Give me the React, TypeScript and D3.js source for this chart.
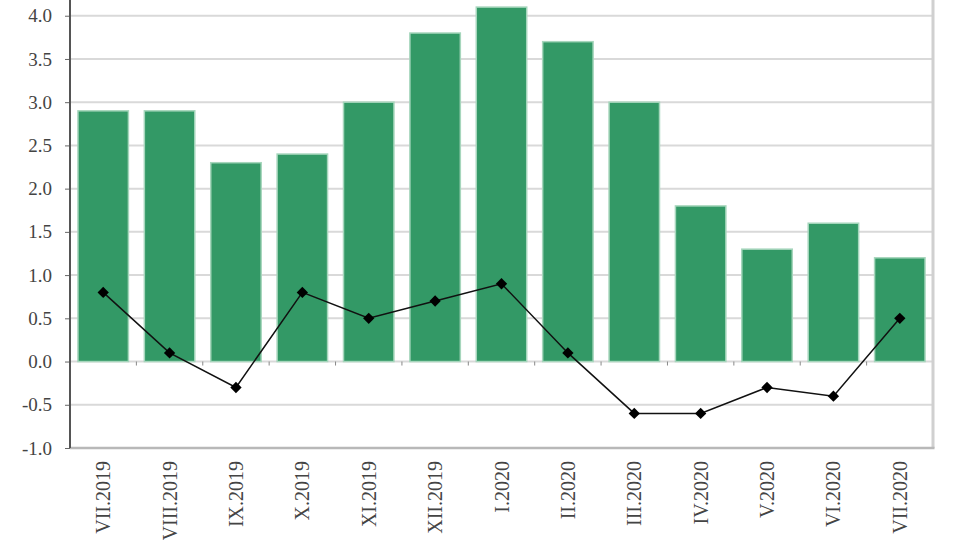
import * as d3 from "d3";
import { useEffect, useRef } from "react";

const months = [
  "VII.2019", "VIII.2019", "IX.2019", "X.2019", "XI.2019", "XII.2019",
  "I.2020", "II.2020", "III.2020", "IV.2020", "V.2020", "VI.2020", "VII.2020",
];
const barValues = [2.9, 2.9, 2.3, 2.4, 3.0, 3.8, 4.1, 3.7, 3.0, 1.8, 1.3, 1.6, 1.2];
const lineValues = [0.8, 0.1, -0.3, 0.8, 0.5, 0.7, 0.9, 0.1, -0.6, -0.6, -0.3, -0.4, 0.5];
const yTicks = [-1.0, -0.5, 0.0, 0.5, 1.0, 1.5, 2.0, 2.5, 3.0, 3.5, 4.0];

export default function App() {
  const svgRef = useRef<SVGSVGElement>(null);

  useEffect(() => {
    if (!svgRef.current) return;
    const svg = d3.select(svgRef.current);
    svg.selectAll("*").remove();

    const left = 70;
    const right = 933;
    const font = "'Liberation Serif', 'DejaVu Serif', serif";

    const x = d3.scaleBand().domain(months).range([left, right]).paddingInner(0.24).paddingOuter(0.12);
    const y = d3.scaleLinear().domain([-1, 4.5]).range([448, -27.5]);

    // gridlines
    svg.append("g")
      .selectAll("line")
      .data(yTicks.filter(t => t > -1))
      .enter()
      .append("line")
      .attr("x1", left)
      .attr("x2", right)
      .attr("y1", d => y(d))
      .attr("y2", d => y(d))
      .attr("stroke", "#d9d9d9")
      .attr("stroke-width", 2);

    // bars
    svg.append("g")
      .selectAll("rect")
      .data(barValues)
      .enter()
      .append("rect")
      .attr("x", (d, i) => x(months[i]))
      .attr("y", d => y(d))
      .attr("width", x.bandwidth())
      .attr("height", d => y(0) - y(d))
      .attr("fill", "#339966")
      .attr("stroke", "#a6d6bc")
      .attr("stroke-width", 1.5);

    // small category ticks at zero line
    svg.append("g")
      .selectAll("line")
      .data(d3.range(1, months.length))
      .enter()
      .append("line")
      .attr("x1", i => left + (right - left) * i / months.length)
      .attr("x2", i => left + (right - left) * i / months.length)
      .attr("y1", y(0))
      .attr("y2", y(0) + 4)
      .attr("stroke", "#888")
      .attr("stroke-width", 1);

    // right border & bottom line
    svg.append("line")
      .attr("x1", right).attr("x2", right)
      .attr("y1", 0).attr("y2", y(-1))
      .attr("stroke", "#d0d0d0").attr("stroke-width", 3);
    svg.append("line")
      .attr("x1", left).attr("x2", right + 1.5)
      .attr("y1", y(-1)).attr("y2", y(-1))
      .attr("stroke", "#b8b8b8").attr("stroke-width", 2.5);

    // left axis
    const yAxis = svg.append("g")
      .attr("transform", `translate(${left},0)`)
      .call(d3.axisLeft(y).tickValues(yTicks).tickFormat(d => d3.format(".1f")(d).replace("−", "-")).tickSize(5).tickPadding(13));
    yAxis.select(".domain").remove();
    yAxis.selectAll(".tick line").attr("stroke", "#666");
    yAxis.selectAll("text")
      .attr("font-family", font)
      .attr("font-size", 19)
      .attr("fill", "#444");
    svg.append("line")
      .attr("x1", left).attr("x2", left)
      .attr("y1", 0).attr("y2", y(-1))
      .attr("stroke", "#555").attr("stroke-width", 2);

    // line series
    const cx = (i: number) => x(months[i])! + x.bandwidth() / 2;
    const line = d3.line<number>().x((d, i) => cx(i)).y(d => y(d));
    svg.append("path")
      .datum(lineValues)
      .attr("d", line)
      .attr("fill", "none")
      .attr("stroke", "#111")
      .attr("stroke-width", 1.5);

    svg.append("g")
      .selectAll("path")
      .data(lineValues)
      .enter()
      .append("path")
      .attr("d", d3.symbol().type(d3.symbolSquare).size(64))
      .attr("transform", (d, i) => `translate(${cx(i)},${y(d)}) rotate(45)`)
      .attr("fill", "#000");

    // x labels
    svg.append("g")
      .selectAll("text")
      .data(months)
      .enter()
      .append("text")
      .attr("transform", d => `translate(${x(d)! + x.bandwidth() / 2 + 7},${y(-1) + 13}) rotate(-90)`)
      .attr("text-anchor", "end")
      .attr("font-family", font)
      .attr("font-size", 20)
      .attr("fill", "#444")
      .text(d => d);
  }, []);

  return (
    <svg
      ref={svgRef}
      width={960}
      height={540}
      style={{ position: "absolute", left: 0, top: 0, background: "#fff" }}
    />
  );
}
